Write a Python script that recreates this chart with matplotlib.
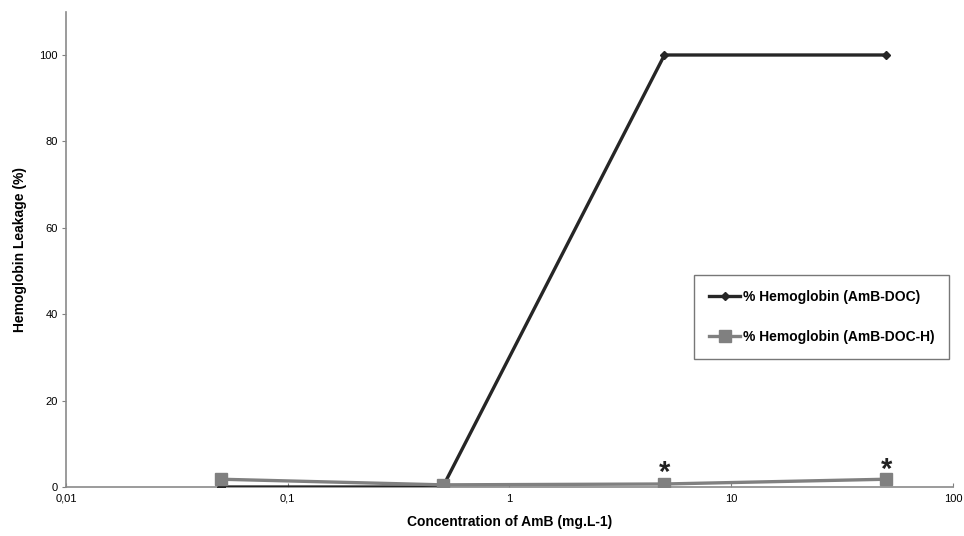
import matplotlib
matplotlib.use("Agg")
import matplotlib.pyplot as plt

# 浓度 (mg/L) 与溶血率
conc = [0.05, 0.5, 5, 50]
hb_doc = [0, 0, 100, 100]
hb_doc_h = [1.8, 0.5, 0.7, 1.8]
star_conc = [5, 50]
star_y = [3.2, 3.9]

x_ticks = [0.01, 0.1, 1, 10, 100]
x_tick_labels = ["0,01", "0,1", "1", "10", "100"]
y_ticks = [0, 20, 40, 60, 80, 100]

plt.rcParams["font.family"] = ["Liberation Sans", "DejaVu Sans"]

fig = plt.figure(figsize=(9.64, 5.36), dpi=100)
ax = fig.add_axes([0.0685, 0.0914, 0.920, 0.8866])

ax.plot(conc, hb_doc, "-D", color="#262626", linewidth=2.4, markersize=4.5,
        label="% Hemoglobin (AmB-DOC)", zorder=3)
ax.plot(conc, hb_doc_h, "-s", color="#808080", linewidth=2.4, markersize=8,
        label="% Hemoglobin (AmB-DOC-H)", zorder=4)

for xs, ys in zip(star_conc, star_y):
    ax.text(xs, ys, "*", ha="center", va="center", fontsize=21, fontweight="bold",
            color="#222222")

ax.set_xscale("log")
ax.set_xlim(0.01, 100)
ax.set_ylim(0, 110)
ax.set_xticks(x_ticks)
ax.set_xticklabels(x_tick_labels)
ax.xaxis.set_minor_locator(matplotlib.ticker.NullLocator())
ax.set_yticks(y_ticks)
ax.tick_params(axis="both", labelsize=8, length=3, color="#808080", pad=3)
ax.tick_params(axis="x", direction="in", pad=5)

for side in ["top", "right"]:
    ax.spines[side].set_visible(False)
for side in ["left", "bottom"]:
    ax.spines[side].set_color("#8a8a8a")
    ax.spines[side].set_linewidth(1.2)

ax.set_xlabel("Concentration of AmB (mg.L-1)", fontsize=10, fontweight="bold", labelpad=8)
ax.set_ylabel("Hemoglobin Leakage (%)", fontsize=10, fontweight="bold", labelpad=9)

leg = ax.legend(loc="upper left", bbox_to_anchor=(0.708, 0.446), frameon=True, fancybox=False,
                prop={"weight": "bold", "size": 10}, borderpad=1.1,
                labelspacing=1.85, handlelength=2.2, handletextpad=0.2, borderaxespad=0)
leg.get_frame().set_edgecolor("#555555")
leg.get_frame().set_linewidth(1.0)

fig.savefig("out.png", dpi=100)
